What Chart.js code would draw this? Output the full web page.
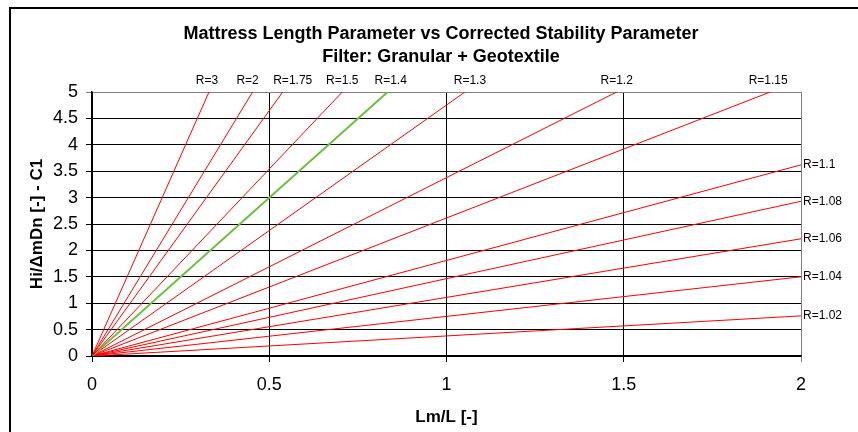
<!DOCTYPE html>
<html lang="en">
  <head>
    <meta charset="UTF-8" />
    <title>Mattress Length Parameter</title>
    <style>
      body {
        margin: 0;
        background: #fff;
      }
      .wrap {
        position: relative;
        width: 858px;
        height: 432px;
      }
    </style>
  </head>
  <body>
    <div class="wrap">
      <canvas id="mattressChart" width="858" height="432"></canvas>
    </div>

    <script src="https://cdn.jsdelivr.net/npm/chart.js"></script>

    <script>
      // R curves, each a straight line from the origin to where it leaves the plot
      const rLabels = ["R=3", "R=2", "R=1.75", "R=1.5", "R=1.4", "R=1.3", "R=1.2", "R=1.15",
                       "R=1.1", "R=1.08", "R=1.06", "R=1.04", "R=1.02"];
      const endX = [0.33, 0.453, 0.538, 0.706, 0.834, 1.052, 1.48, 1.913, 2, 2, 2, 2, 2];
      const endY = [5, 5, 5, 5, 5, 5, 5, 5, 3.62, 2.93, 2.22, 1.5, 0.76];
      const highlighted = "R=1.4";

      const xTicks = [0, 0.5, 1, 1.5, 2];
      const yTicks = [0, 0.5, 1, 1.5, 2, 2.5, 3, 3.5, 4, 4.5, 5];

      // small sideways nudges so the labels along the top don't collide
      const labelNudge = { "R=3": -2, "R=2": -5, "R=1.75": 10, "R=1.4": 3, "R=1.3": 5, "R=1.15": -2 };

      const FONT = "'Liberation Sans', Arial, sans-serif";

      const datasets = rLabels.map((lbl, i) => ({
        label: lbl,
        data: [
          { x: 0, y: 0 },
          { x: endX[i], y: endY[i] },
        ],
        borderColor: lbl === highlighted ? "#6DBE3C" : "#FF0000",
        borderWidth: lbl === highlighted ? 2 : 1,
        pointRadius: 0,
        fill: false,
      }));

      // page frame, titles and the R= labels
      const decorations = {
        id: "decorations",
        beforeDraw(chart) {
          const c = chart.ctx;
          c.save();
          c.fillStyle = "#fff";
          c.fillRect(0, 0, chart.width, chart.height);
          c.strokeStyle = "#000";
          c.lineWidth = 2;
          c.beginPath();
          c.moveTo(10, chart.height);
          c.lineTo(10, 8);
          c.lineTo(chart.width, 8);
          c.stroke();
          c.restore();
        },
        afterDatasetsDraw(chart) {
          const c = chart.ctx;
          const xs = chart.scales.x;
          const ys = chart.scales.y;
          c.save();
          c.fillStyle = "#000";
          c.font = "bold 18px " + FONT;
          c.textAlign = "center";
          c.textBaseline = "middle";
          c.fillText("Mattress Length Parameter vs Corrected Stability Parameter", 441, 34);
          c.fillText("Filter: Granular + Geotextile", 441, 57);

          c.font = "12px " + FONT;
          chart.data.datasets.forEach((ds) => {
            const end = ds.data[ds.data.length - 1];
            const px = xs.getPixelForValue(end.x);
            const py = ys.getPixelForValue(end.y);
            if (end.y >= ys.max) {
              c.textAlign = "center";
              c.fillText(ds.label, px + (labelNudge[ds.label] || 0), 81);
            } else {
              c.textAlign = "left";
              c.fillText(ds.label, px + 2, py);
            }
          });
          c.restore();
        },
      };

      const gridColor = (edge) => (ctx) =>
        ctx.tick && ctx.tick.value === edge ? "#808080" : "#000";

      const plain = (v) => String(v);

      const ctx = document.getElementById("mattressChart").getContext("2d");

      new Chart(ctx, {
        type: "line",
        data: { datasets: datasets },
        options: {
          responsive: false,
          animation: false,
          layout: { padding: { top: 92, right: 57, left: 0, bottom: 0 } },
          plugins: {
            legend: { display: false },
            title: { display: false },
            tooltip: { enabled: false },
          },
          scales: {
            x: {
              type: "linear",
              min: 0,
              max: 2,
              afterFit(scale) {
                scale.height = 76;
              },
              afterBuildTicks(scale) {
                scale.ticks = xTicks.map((v) => ({ value: v }));
              },
              ticks: {
                color: "#000",
                padding: 12,
                font: { family: FONT, size: 18 },
                maxRotation: 0,
                callback: plain,
              },
              grid: {
                color: gridColor(2),
                tickLength: 6,
                lineWidth: 1,
              },
              border: { color: "#000", width: 1.5 },
              title: {
                display: true,
                text: "Lm/L [-]",
                color: "#000",
                font: { family: FONT, size: 17, weight: "bold" },
                padding: { top: 0, bottom: 4 },
              },
            },
            y: {
              type: "linear",
              min: 0,
              max: 5,
              afterFit(scale) {
                scale.width = 92;
              },
              afterBuildTicks(scale) {
                scale.ticks = yTicks.map((v) => ({ value: v }));
              },
              ticks: {
                color: "#000",
                padding: 8,
                font: { family: FONT, size: 18 },
                callback: plain,
              },
              grid: {
                color: gridColor(5),
                tickLength: 6,
                lineWidth: 1,
              },
              border: { color: "#000", width: 1.5 },
              title: {
                display: true,
                text: "Hi/ΔmDn [-] - C1",
                color: "#000",
                font: { family: FONT, size: 17, weight: "bold" },
                padding: { top: 27, bottom: 0 },
              },
            },
          },
        },
        plugins: [decorations],
      });
    </script>
  </body>
</html>
